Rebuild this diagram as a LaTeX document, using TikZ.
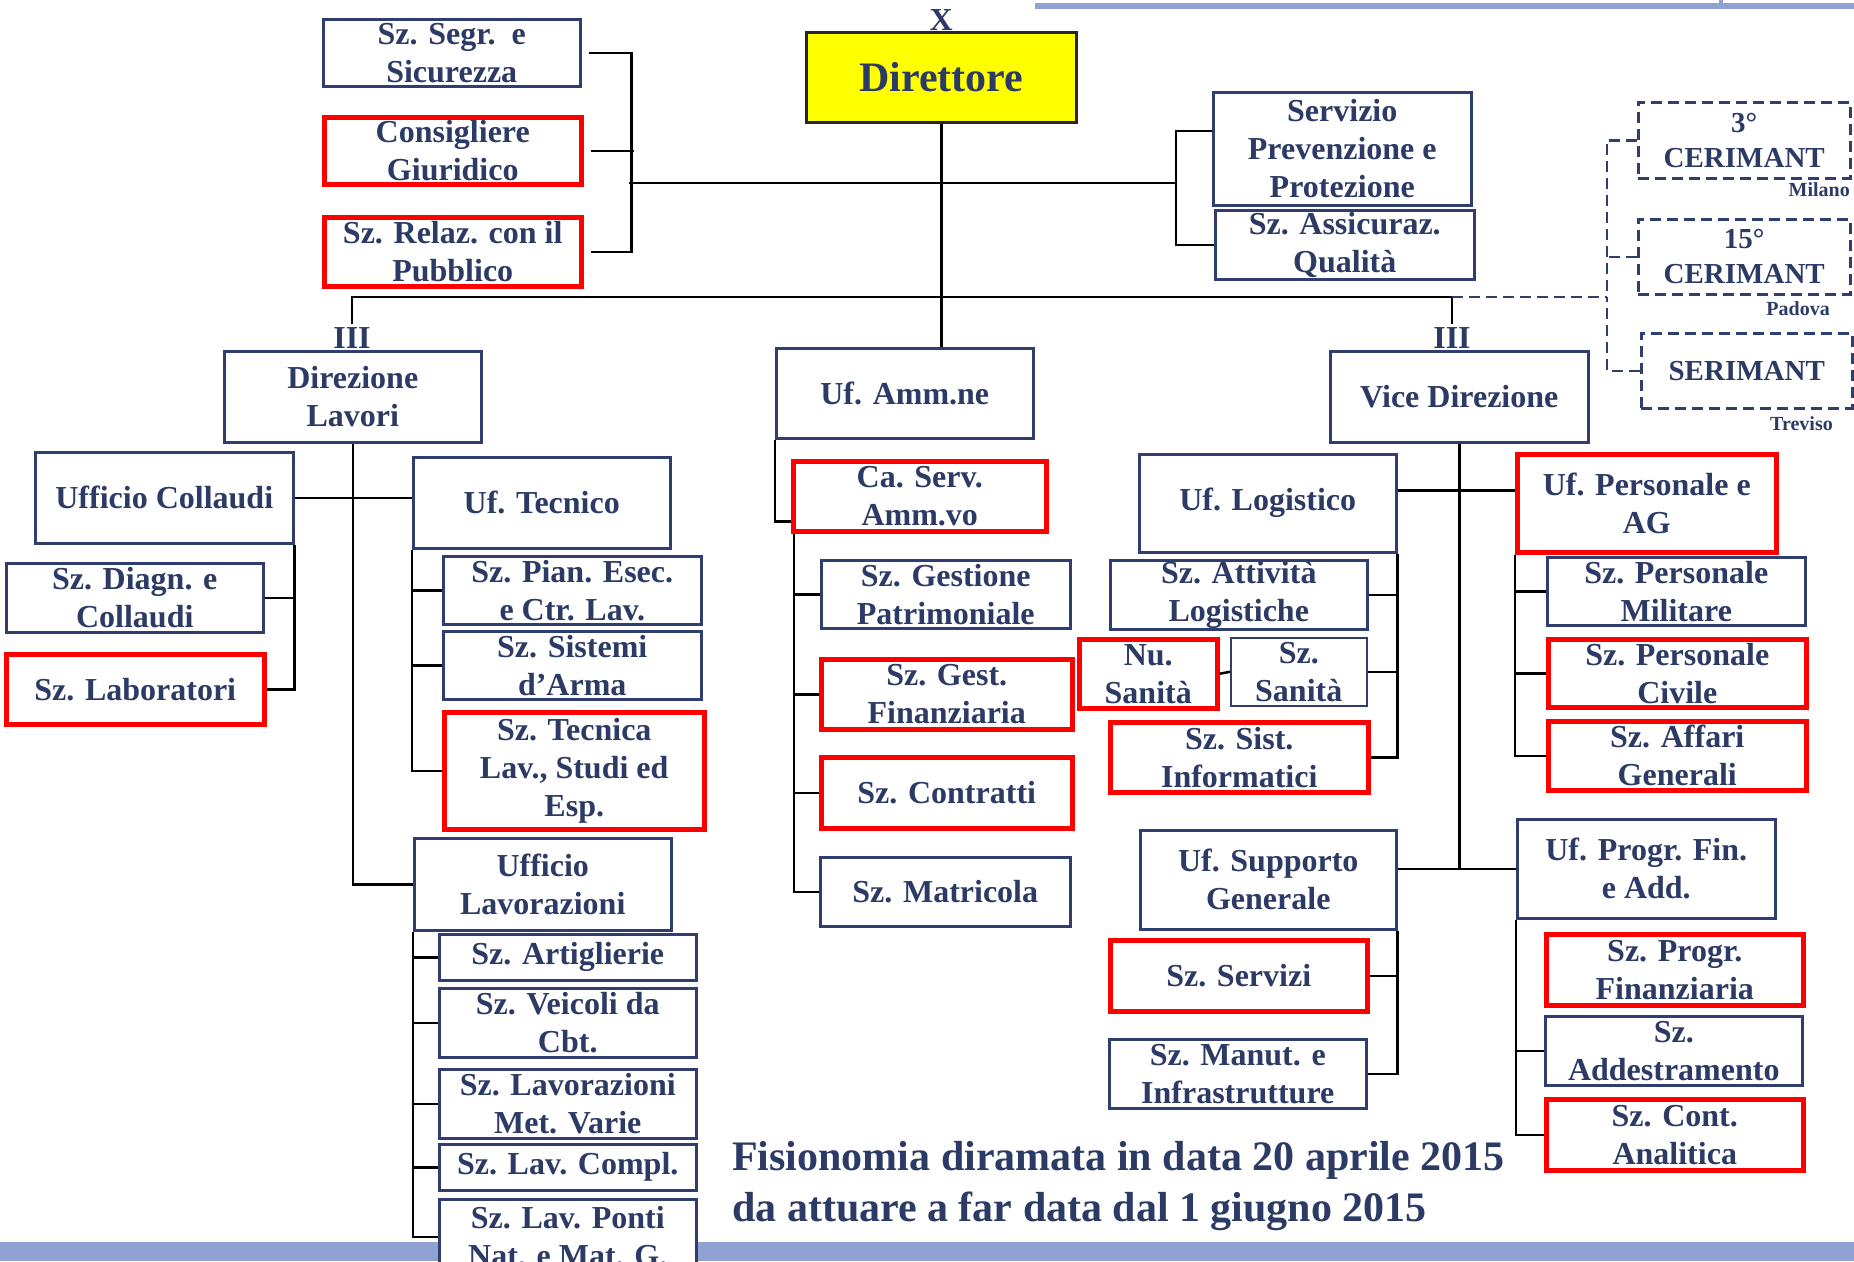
\documentclass[tikz,border=0pt]{standalone}
\usepackage{fontspec}
\setmainfont{Liberation Serif}
\usepackage{tikz}

\definecolor{navy}{RGB}{44,58,102}
\definecolor{boxline}{RGB}{47,62,110}
\definecolor{band}{RGB}{143,162,210}
\definecolor{redline}{RGB}{255,0,0}
\definecolor{gold}{RGB}{255,255,0}

\newcommand{\unitfont}{\fontsize{32}{38}\selectfont\bfseries}
\newcommand{\chieffont}{\fontsize{42}{50}\selectfont\bfseries}
\newcommand{\sedefont}{\fontsize{29}{35}\selectfont\bfseries}
\newcommand{\cityfont}{\fontsize{20}{24}\selectfont\bfseries}
\newcommand{\notefont}{\fontsize{42}{51}\selectfont\bfseries}

\tikzset{
  unit/.style={draw=boxline, line width=2.5pt, fill=white, text=navy, font=\unitfont,
    align=center, inner sep=0pt, anchor=north west},
  redunit/.style={unit, draw=redline, line width=4.5pt},
  sede/.style={unit, dash pattern=on 11pt off 6pt, font=\sedefont},
  wh/.style 2 args={minimum width=#1pt, minimum height=#2pt},
  roman/.style={text=navy, font=\unitfont, inner sep=3pt},
  city/.style={text=navy, font=\cityfont, inner sep=0pt, anchor=east},
  link/.style={draw=black, line width=2.5pt},
  dashlink/.style={draw=boxline, line width=2.5pt, dash pattern=on 11pt off 6pt},
}

\begin{document}
\begin{tikzpicture}[x=1pt, y=-1pt]
    \useasboundingbox (0,0) rectangle (1854,1261);
    % slide frame
    \fill[band] (1035,3) rectangle (1854,9);
    \fill[band] (1719,0) rectangle (1723,4);
    \fill[band] (0,1242) rectangle (1854,1261);

    % direttore e staff
    \node[unit, wh={270}{90}, fill=gold, draw=black!85, font=\chieffont] (dir) at (805,31) {Direttore};
    \node[roman, anchor=south, inner sep=0pt] (xlab) at (dir.north) {X};
    \node[unit, wh={257}{67}] (segr) at (322,18) {Sz. Segr.\ \ e\\Sicurezza};
    \node[redunit, wh={257}{67}] (cons) at (322,115) {Consigliere\\Giuridico};
    \node[redunit, wh={257}{69}] (relaz) at (322,215) {Sz. Relaz. con il\\Pubblico};
    \node[unit, wh={258}{113}] (prev) at (1212,91) {Servizio\\Prevenzione e\\Protezione};
    \node[unit, wh={259}{69}] (assic) at (1214,209) {Sz. Assicuraz.\\Qualità};

    % sedi distaccate
    \node[sede, wh={212}{76}] (cer3) at (1637,101) {3°\\CERIMANT};
    \node[city] (milano) at (1850,190) {Milano};
    \node[sede, wh={212}{75}] (cer15) at (1637,218) {15°\\CERIMANT};
    \node[city] (padova) at (1830,309) {Padova};
    \node[sede, wh={211}{75}] (serim) at (1640,332) {SERIMANT};
    \node[city] (treviso) at (1833,424) {Treviso};

    % secondo livello
    \node[roman] (iiiA) at (352,338) {III};
    \node[unit, wh={257}{91}] (dirlav) at (223,350) {Direzione\\Lavori};
    \node[unit, wh={257}{90}] (amm) at (775,347) {Uf. Amm.ne};
    \node[roman] (iiiB) at (1452,338) {III};
    \node[unit, wh={258}{91}] (vice) at (1329,350) {Vice Direzione};

    % direzione lavori
    \node[unit, wh={258}{91}] (coll) at (34,451) {Ufficio Collaudi};
    \node[unit, wh={257}{69}] (diagn) at (5,562) {Sz. Diagn. e\\Collaudi};
    \node[redunit, wh={258}{70}] (lab) at (4,652) {Sz. Laboratori};
    \node[unit, wh={257}{91}] (tec) at (412,456) {Uf. Tecnico};
    \node[unit, wh={258}{68}] (pian) at (442,555) {Sz. Pian. Esec.\\e Ctr. Lav.};
    \node[unit, wh={258}{68}] (arma) at (442,630) {Sz. Sistemi\\d'Arma};
    \node[redunit, wh={260}{117}] (tecn) at (442,710) {Sz. Tecnica\\Lav., Studi ed\\Esp.};
    \node[unit, wh={257}{92}] (lavor) at (413,837) {Ufficio\\Lavorazioni};
    \node[unit, wh={257}{46}] (artig) at (438,933) {Sz. Artiglierie};
    \node[unit, wh={257}{69}] (veic) at (438,987) {Sz. Veicoli da\\Cbt.};
    \node[unit, wh={257}{69}] (metv) at (438,1068) {Sz. Lavorazioni\\Met. Varie};
    \node[unit, wh={257}{46}] (compl) at (438,1143) {Sz. Lav. Compl.};
    \node[unit, wh={257}{75}] (ponti) at (438,1198) {Sz. Lav. Ponti\\Nat. e Mat. G.};

    % ufficio amministrazione
    \node[redunit, wh={253}{70}] (caserv) at (791,459) {Ca. Serv.\\Amm.vo};
    \node[unit, wh={249}{68}] (patr) at (820,559) {Sz. Gestione\\Patrimoniale};
    \node[redunit, wh={251}{70}] (fin) at (819,657) {Sz. Gest.\\Finanziaria};
    \node[redunit, wh={251}{71}] (contr) at (819,755) {Sz. Contratti};
    \node[unit, wh={250}{69}] (matr) at (819,856) {Sz. Matricola};

    % vice direzione
    \node[unit, wh={257}{98}] (logi) at (1138,453) {Uf. Logistico};
    \node[unit, wh={257}{69}] (attiv) at (1109,559) {Sz. Attività\\Logistiche};
    \node[redunit, wh={138}{69}] (nusan) at (1077,637) {Nu.\\Sanità};
    \node[unit, wh={136}{68}, line width=1.5pt] (szsan) at (1230,637) {Sz.\\Sanità};
    \node[redunit, wh={258}{70}] (sist) at (1108,720) {Sz. Sist.\\Informatici};
    \node[unit, wh={256}{99}] (supp) at (1139,829) {Uf. Supporto\\Generale};
    \node[redunit, wh={257}{71}] (servizi) at (1108,938) {Sz. Servizi};
    \node[unit, wh={257}{69}] (manut) at (1108,1038) {Sz. Manut. e\\Infrastrutture};
    \node[redunit, wh={259}{98}] (pers) at (1515,452) {Uf. Personale e\\AG};
    \node[unit, wh={258}{68}] (mil) at (1546,556) {Sz. Personale\\Militare};
    \node[redunit, wh={258}{68}] (civ) at (1546,637) {Sz. Personale\\Civile};
    \node[redunit, wh={258}{69}] (aff) at (1546,719) {Sz. Affari\\Generali};
    \node[unit, wh={258}{99}] (progr) at (1516,818) {Uf. Progr. Fin.\\e Add.};
    \node[redunit, wh={257}{71}] (pfin) at (1544,932) {Sz. Progr.\\Finanziaria};
    \node[unit, wh={257}{69}] (add) at (1544,1015) {Sz.\\Addestramento};
    \node[redunit, wh={257}{71}] (cont) at (1544,1097) {Sz. Cont.\\Analitica};

    \node[text=navy, font=\notefont, align=left, anchor=north west, inner sep=0pt] (nota) at (732,1141)
      {Fisionomia diramata in data 20 aprile 2015\\da attuare a far data dal 1 giugno 2015};

    % collegamenti staff
    \draw[link] ([xshift=7]segr.east) -- ++(43,0) |- ([xshift=7]relaz.east);
    \draw[link] ([xshift=7]cons.east) -- ++(43,0);
    \coordinate (staffL) at (629,183);
    \coordinate (staffR) at (1176,183);
    \draw[link] (staffL) -- (staffR);
    \draw[link] ([yshift=18]prev.west) -| (staffR) |- (assic.west);

    % linea principale
    \coordinate (busL) at (352,297);
    \coordinate (busR) at (1452,297);
    \coordinate (sedebus) at (1607,297);
    \draw[link] (dir.south) -- (dir.south |- amm.north);
    \draw[link] (iiiA.north) -- (busL) -- (busR) -- (iiiB.north);
    \draw[dashlink] (busR) -- (sedebus);
    \draw[dashlink] (cer3.west) -| (sedebus);
    \draw[dashlink] (serim.west) -| (sedebus);
    \draw[dashlink] (cer15.west) -- (cer15.west -| sedebus);

    % direzione lavori
    \draw[link] (dirlav.south) |- (lavor.west);
    \draw[link] (coll.east) -- (coll.east -| tec.west);
    \draw[link] (coll.south east) |- (lab.east);
    \draw[link] (diagn.east) -- (diagn.east -| coll.east);
    \draw[link] (tec.south west) |- (tecn.west);
    \draw[link] (pian.west) -- (pian.west -| tec.west);
    \draw[link] (arma.west) -- (arma.west -| tec.west);
    \draw[link] (lavor.south west) |- (ponti.west);
    \draw[link] (artig.west) -- (artig.west -| lavor.west);
    \draw[link] (veic.west) -- (veic.west -| lavor.west);
    \draw[link] (metv.west) -- (metv.west -| lavor.west);
    \draw[link] (compl.west) -- (compl.west -| lavor.west);

    % amministrazione
    \coordinate (ammbar) at ([xshift=3]caserv.south west);
    \draw[link] (amm.south west) |- ([yshift=-25]caserv.west);
    \draw[link] (ammbar) |- (matr.west);
    \draw[link] (patr.west) -- (patr.west -| ammbar);
    \draw[link] (fin.west) -- (fin.west -| ammbar);
    \draw[link] (contr.west) -- (contr.west -| ammbar);

    % vice direzione
    \draw[link] (vice.south) -- (vice.south |- progr.west);
    \draw[link] ([yshift=13]logi.east) -- ([yshift=13]logi.east -| pers.west);
    \draw[link] (logi.south east) |- (sist.east);
    \draw[link] (attiv.east) -- (attiv.east -| logi.east);
    \draw[link] (szsan.east) -- (szsan.east -| logi.east);
    \draw[link] (nusan.east) -- (szsan.west);
    \draw[link] (pers.south west) |- (aff.west);
    \draw[link] (mil.west) -- (mil.west -| pers.west);
    \draw[link] (civ.west) -- (civ.west -| pers.west);
    \draw[link] (supp.east |- progr.west) -- (progr.west);
    \draw[link] (supp.south east) |- (manut.east);
    \draw[link] (servizi.east) -- (servizi.east -| supp.east);
    \draw[link] (progr.south west) |- (cont.west);
    \draw[link] (add.west) -- (add.west -| progr.west);
\end{tikzpicture}
\end{document}
